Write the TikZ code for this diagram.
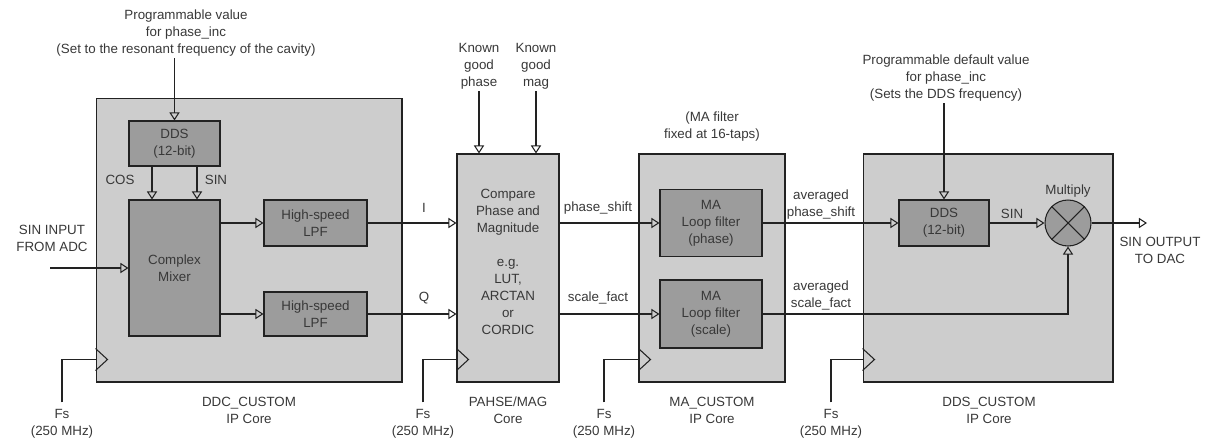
\documentclass[tikz,border=0pt]{standalone}
\usepackage{fontspec}
\setmainfont{Liberation Sans}
\usetikzlibrary{arrows.meta, positioning}

\definecolor{corefill}{HTML}{CDCDCD}
\definecolor{blockfill}{HTML}{9C9C9C}
\definecolor{linecol}{HTML}{222222}
\definecolor{txtcol}{HTML}{383838}

\begin{document}
\begin{tikzpicture}[
x=0.02cm, y=0.02cm,
font=\fontsize{7.6}{9.7}\selectfont,
core/.style={draw=linecol, fill=corefill, line width=0.6pt, inner sep=0pt},
block/.style={draw=linecol, fill=blockfill, line width=0.6pt, align=center, text=txtcol, inner sep=0pt},
txt/.style={align=center, text=txtcol, inner sep=1pt},
wire/.style={draw=linecol, line width=0.6pt},
arrow/.style={wire, -{Triangle[open, length=4.6pt, width=5.8pt]}}
]
\useasboundingbox (0,0) rectangle (1212,444);

% IP cores
\node[core, minimum width=6.12cm, minimum height=5.68cm] (ddc) at (249,204) {};
\node[core, minimum width=2.04cm, minimum height=4.56cm] (cmp) at (508,176) {};
\node[core, minimum width=2.92cm, minimum height=4.56cm] (macore) at (712,176) {};
\node[core, minimum width=5cm, minimum height=4.56cm] (ddscore) at (988,176) {};

% blocks inside the cores
\node[block, minimum width=1.82cm, minimum height=0.9cm] (dds1) at (174.5,300.5)
{DDS\\(12-bit)};
\node[block, minimum width=1.82cm, minimum height=2.72cm] (mixer) at (174.5,176)
{Complex\\Mixer};
\node[block, minimum width=2.06cm, minimum height=0.92cm] (lpfi) at (315.5,221)
{High-speed\\LPF};
\node[block, minimum width=2.06cm, minimum height=0.88cm] (lpfq) at (315.5,130)
{High-speed\\LPF};
\node[txt] (cmptxt) at (508,182)
{Compare\\Phase and\\Magnitude\\[9.7pt]e.g.\\LUT,\\ARCTAN\\or\\CORDIC};
\node[block, minimum width=2.04cm, minimum height=1.34cm] (maphase) at (711,221)
{MA\\Loop filter\\(phase)};
\node[block, minimum width=2.04cm, minimum height=1.36cm] (mascale) at (711,130)
{MA\\Loop filter\\(scale)};
\node[block, minimum width=1.8cm, minimum height=0.92cm] (dds2) at (944,221)
{DDS\\(12-bit)};
\node[block, circle, minimum size=0.92cm] (mult) at (1068,221) {};
\draw[wire] (mult.north west) -- (mult.south east);
\draw[wire] (mult.north east) -- (mult.south west);

% texts
\node[txt] (proga) at (186,411)
{Programmable value\\for phase\_inc\\(Set to the resonant frequency of the cavity)};
\node[txt] (kgphase) at (479,378) {Known\\good\\phase};
\node[txt] (kgmag) at (536,378) {Known\\good\\mag};
\node[txt] (mafilt) at (712,317.5) {(MA filter\\fixed at 16-taps)};
\node[txt] (progb) at (946,366)
{Programmable default value\\for phase\_inc\\(Sets the DDS frequency)};
\node[txt] (sinin) at (52,205.5) {SIN INPUT\\FROM ADC};
\node[txt] (lblcos) at (120,264) {COS};
\node[txt] (lblsina) at (216,264) {SIN};
\node[txt] (lbli) at (424,236) {I};
\node[txt] (lblq) at (424,146) {Q};
\node[txt] (lblph) at (598,236) {phase\_shift};
\node[txt] (lblsc) at (598,146) {scale\_fact};
\node[txt] (avgph) at (821,239.5) {averaged\\phase\_shift};
\node[txt] (avgsc) at (821,148.5) {averaged\\scale\_fact};
\node[txt] (lblsinb) at (1012,230) {SIN};
\node[txt] (lblmult) at (1068,253) {Multiply};
\node[txt] (sinout) at (1160,193.5) {SIN OUTPUT\\TO DAC};
\node[txt] (ddclbl) at (249,34) {DDC\_CUSTOM\\IP Core};
\node[txt] (cmplbl) at (508,34) {PAHSE/MAG\\Core};
\node[txt] (malbl) at (712,34) {MA\_CUSTOM\\IP Core};
\node[txt] (ddslbl) at (989,34) {DDS\_CUSTOM\\IP Core};

\coordinate (adcin) at (50,176);
\coordinate (dacout) at (1147,221);

% connections
\draw[arrow] (proga.south -| dds1.north) -- (dds1.north);
\draw[arrow] ([xshift=-0.45cm]dds1.south) -- ([xshift=-0.45cm]mixer.north);
\draw[arrow] ([xshift=0.45cm]dds1.south) -- ([xshift=0.45cm]mixer.north);
\draw[arrow] (adcin) -- (mixer.west);
\draw[arrow] (mixer.east |- lpfi.west) -- (lpfi.west);
\draw[arrow] (mixer.east |- lpfq.west) -- (lpfq.west);
\draw[arrow] (lpfi.east) -- (lpfi.east -| cmp.west);
\draw[arrow] (lpfq.east) -- (lpfq.east -| cmp.west);
\draw[arrow] (kgphase.south) -- (kgphase.south |- cmp.north);
\draw[arrow] (kgmag.south) -- (kgmag.south |- cmp.north);
\draw[arrow] (cmp.east |- maphase.west) -- (maphase.west);
\draw[arrow] (cmp.east |- mascale.west) -- (mascale.west);
\draw[arrow] (maphase.east) -- (dds2.west);
\draw[arrow] (progb.south -| dds2.north) -- (dds2.north);
\draw[arrow] (dds2.east) -- (mult.west);
\draw[arrow] (mascale.east) -| (mult.south);
\draw[arrow] (mult.east) -- (dacout);

% clock inputs
\foreach \c/\fx/\n in {ddc/62/a, cmp/423/b, macore/604/c, ddscore/831/d} {
  \draw[wire] ([yshift=0.68cm]\c.south west) -- ([xshift=0.24cm, yshift=0.46cm]\c.south west)
    -- ([yshift=0.24cm]\c.south west);
  \node[txt] (fs\n) at (\fx,20) {Fs\\(250 MHz)};
  \draw[wire] ([yshift=0.1cm]fs\n.north) |- ([yshift=0.46cm]\c.south west);
}

\end{tikzpicture}
\end{document}
